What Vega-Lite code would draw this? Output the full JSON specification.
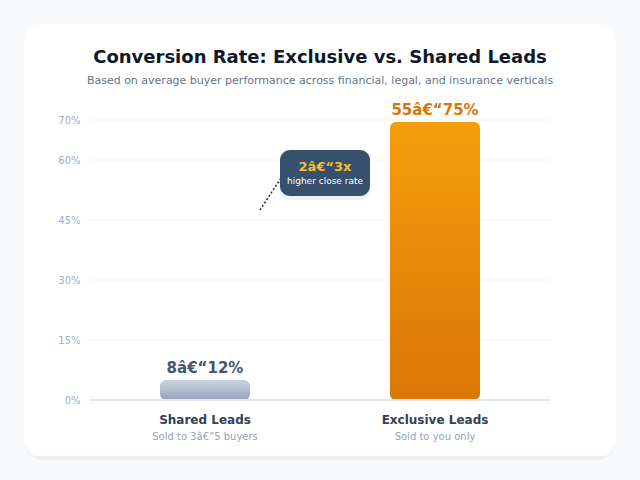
{
  "$schema": "https://vega.github.io/schema/vega-lite/v6.json",
  "width": 592,
  "height": 280,
  "padding": {"left": 24, "right": 24, "top": 24, "bottom": 20},
  "background": "#f8fafc",
  "title": {
    "text": "Conversion Rate: Exclusive vs. Shared Leads",
    "subtitle": "Based on average buyer performance across financial, legal, and insurance verticals",
    "anchor": "middle",
    "frame": "group",
    "font": "DejaVu Sans",
    "fontSize": 18,
    "fontWeight": "bold",
    "color": "#0f172a",
    "subtitleFont": "DejaVu Sans",
    "subtitleFontSize": 11,
    "subtitleColor": "#64748b",
    "subtitlePadding": 8,
    "offset": -62
  },
  "config": {"view": {"stroke": null}, "font": "DejaVu Sans"},
  "datasets": {
    "segments": [
      {"segment": "Shared Leads", "rate": 5, "label": "8â€“12%", "note": "Sold to 3â€”5 buyers"},
      {"segment": "Exclusive Leads", "rate": 69.5, "label": "55â€“75%", "note": "Sold to you only"}
    ],
    "grid": [{"tick": 15}, {"tick": 30}, {"tick": 45}, {"tick": 60}, {"tick": 70}],
    "callout": [{"headline": "2â€“3x", "detail": "higher close rate"}]
  },
  "data": {"name": "segments"},
  "layer": [
    {
      "data": {"name": "callout"},
      "mark": {"type": "rect", "color": "#eef2f7", "cornerRadius": 18},
      "encoding": {
        "y": {"datum": 93.5, "type": "quantitative", "scale": {"domain": [0, 70], "nice": false}},
        "y2": {"datum": -15}
      }
    },
    {
      "data": {"name": "callout"},
      "mark": {"type": "rect", "color": "#ffffff", "cornerRadius": 16},
      "encoding": {
        "y": {"datum": 94, "type": "quantitative"},
        "y2": {"datum": -14}
      }
    },
    {
      "data": {"name": "grid"},
      "mark": {"type": "rule", "color": "#f1f5f9", "strokeWidth": 1, "xOffset": -115, "x2Offset": 115},
      "encoding": {
        "x": {"datum": "Shared Leads", "type": "nominal", "scale": {"domain": ["Shared Leads", "Exclusive Leads"], "paddingInner": 0.6087, "paddingOuter": 0.5913}, "axis": null},
        "x2": {"datum": "Exclusive Leads"},
        "y": {"field": "tick", "type": "quantitative"}
      }
    },
    {
      "transform": [{"filter": "datum.segment == 'Shared Leads'"}],
      "mark": {
        "type": "bar",
        "cornerRadius": 6,
        "color": {"gradient": "linear", "x1": 0, "y1": 0, "x2": 0, "y2": 1, "stops": [{"offset": 0, "color": "#cbd5e1"}, {"offset": 1, "color": "#94a3b8"}]}
      },
      "encoding": {
        "x": {"field": "segment", "type": "nominal"},
        "y": {"field": "rate", "type": "quantitative"}
      }
    },
    {
      "transform": [{"filter": "datum.segment == 'Exclusive Leads'"}],
      "mark": {
        "type": "bar",
        "cornerRadius": 6,
        "color": {"gradient": "linear", "x1": 0, "y1": 0, "x2": 0, "y2": 1, "stops": [{"offset": 0, "color": "#f59e0b"}, {"offset": 1, "color": "#d97706"}]}
      },
      "encoding": {
        "x": {"field": "segment", "type": "nominal"},
        "y": {"field": "rate", "type": "quantitative"}
      }
    },
    {
      "data": {"name": "callout"},
      "mark": {"type": "rule", "color": "#e2e8f0", "strokeWidth": 2, "xOffset": -115, "x2Offset": 115},
      "encoding": {
        "x": {"datum": "Shared Leads", "type": "nominal"},
        "x2": {"datum": "Exclusive Leads"},
        "y": {"datum": 0, "type": "quantitative", "axis": {"values": [0, 15, 30, 45, 60, 70], "labelExpr": "datum.value + '%'", "offset": -66, "domain": false, "ticks": false, "grid": false, "labelPadding": 10, "labelColor": "#a0aec0", "labelFontSize": 10, "labelFont": "DejaVu Sans", "title": null, "zindex": 1}}
      }
    },
    {
      "mark": {"type": "text", "baseline": "alphabetic", "dy": -7, "fontSize": 15, "fontWeight": "bold"},
      "encoding": {
        "x": {"field": "segment", "type": "nominal"},
        "y": {"field": "rate", "type": "quantitative"},
        "text": {"field": "label"},
        "color": {"field": "segment", "type": "nominal", "scale": {"domain": ["Shared Leads", "Exclusive Leads"], "range": ["#475569", "#d97706"]}, "legend": null}
      }
    },
    {
      "mark": {"type": "text", "baseline": "middle", "dy": 20, "fontSize": 12, "fontWeight": "bold", "color": "#334155"},
      "encoding": {
        "x": {"field": "segment", "type": "nominal"},
        "y": {"datum": 0, "type": "quantitative"},
        "text": {"field": "segment"}
      }
    },
    {
      "mark": {"type": "text", "baseline": "middle", "dy": 37, "fontSize": 10, "color": "#94a3b8"},
      "encoding": {
        "x": {"field": "segment", "type": "nominal"},
        "y": {"datum": 0, "type": "quantitative"},
        "text": {"field": "note"}
      }
    },
    {
      "data": {"name": "callout"},
      "mark": {"type": "rule", "color": "#1e293b", "strokeWidth": 1.5, "strokeDash": [2, 2], "xOffset": 55, "x2Offset": 80},
      "encoding": {
        "x": {"datum": "Shared Leads", "type": "nominal"},
        "x2": {"datum": "Shared Leads"},
        "y": {"datum": 47.5, "type": "quantitative"},
        "y2": {"datum": 57}
      }
    },
    {
      "data": {"name": "callout"},
      "mark": {"type": "rect", "color": "#94a3b8", "opacity": 0.15, "cornerRadius": 11, "xOffset": 120},
      "encoding": {
        "x": {"datum": "Shared Leads", "type": "nominal"},
        "y": {"datum": 62, "type": "quantitative"},
        "y2": {"datum": 50}
      }
    },
    {
      "data": {"name": "callout"},
      "mark": {"type": "rect", "color": "#36506e", "cornerRadius": 10, "xOffset": 120},
      "encoding": {
        "x": {"datum": "Shared Leads", "type": "nominal"},
        "y": {"datum": 62.5, "type": "quantitative"},
        "y2": {"datum": 51}
      }
    },
    {
      "data": {"name": "callout"},
      "mark": {"type": "text", "baseline": "middle", "dx": 120, "fontSize": 13, "fontWeight": "bold", "color": "#fbbf24"},
      "encoding": {
        "x": {"datum": "Shared Leads", "type": "nominal"},
        "y": {"datum": 58.3, "type": "quantitative"},
        "text": {"field": "headline"}
      }
    },
    {
      "data": {"name": "callout"},
      "mark": {"type": "text", "baseline": "middle", "dx": 120, "fontSize": 9, "color": "#ffffff"},
      "encoding": {
        "x": {"datum": "Shared Leads", "type": "nominal"},
        "y": {"datum": 54.7, "type": "quantitative"},
        "text": {"field": "detail"}
      }
    }
  ]
}
